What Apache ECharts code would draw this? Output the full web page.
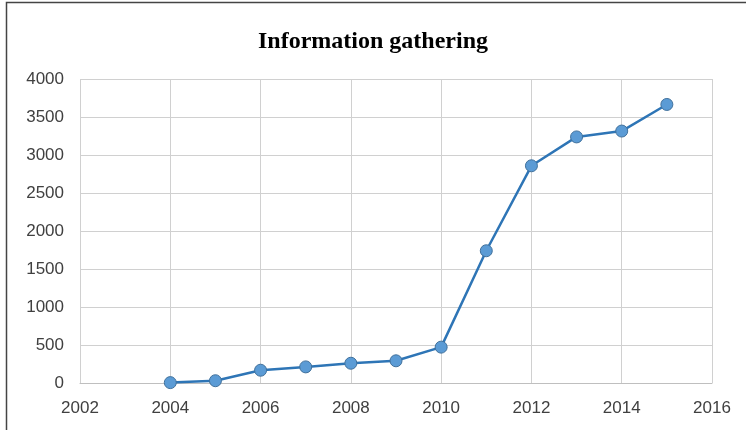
<!DOCTYPE html>
<html><head><meta charset="utf-8">
<script src="https://cdn.jsdelivr.net/npm/echarts@6/dist/echarts.min.js"></script>
<style>html,body{margin:0;padding:0;background:#fff}#c{width:746px;height:430px}</style>
</head><body><div id="c"></div>
<script>
const titleText = 'Information gathering';
const years = [2004, 2005, 2006, 2007, 2008, 2009, 2010, 2011, 2012, 2013, 2014, 2015];
const values = [5, 30, 168, 212, 260, 292, 472, 1740, 2858, 3238, 3315, 3665];

const chart = echarts.init(document.getElementById('c'), null, {renderer: 'canvas'});
chart.setOption({
  animation: false,
  backgroundColor: '#fff',
  title: {
    text: titleText, left: 'center', top: 25,
    textStyle: {fontFamily: 'Liberation Serif', fontWeight: 'bold', fontSize: 24, color: '#000'}
  },
  graphic: [{
    type: 'rect', shape: {x: 6.5, y: 2.5, width: 900, height: 600},
    style: {fill: 'none', stroke: '#444', lineWidth: 1.5}, silent: true
  }],
  grid: {left: 80, right: 34, top: 79, bottom: 47},
  xAxis: {
    type: 'value', min: 2002, max: 2016, interval: 2,
    axisLine: {show: true, lineStyle: {color: '#bfbfbf', width: 1}},
    axisTick: {show: false},
    axisLabel: {color: '#404040', fontFamily: 'Liberation Sans', fontSize: 17, margin: 17, formatter: v => String(v)},
    splitLine: {show: true, lineStyle: {color: '#d0d0d0', width: 1}}
  },
  yAxis: {
    type: 'value', min: 0, max: 4000, interval: 500,
    axisLine: {show: false},
    axisTick: {show: false},
    axisLabel: {color: '#404040', fontFamily: 'Liberation Sans', fontSize: 17, margin: 16, formatter: v => String(v)},
    splitLine: {show: true, lineStyle: {color: '#d0d0d0', width: 1}}
  },
  series: [{
    type: 'line',
    data: years.map((y, i) => [y, values[i]]),
    symbol: 'circle', symbolSize: 12,
    lineStyle: {color: '#2E75B6', width: 2.5},
    itemStyle: {color: '#5B9BD5', borderColor: '#41719C', borderWidth: 1}
  }]
});
</script></body></html>
